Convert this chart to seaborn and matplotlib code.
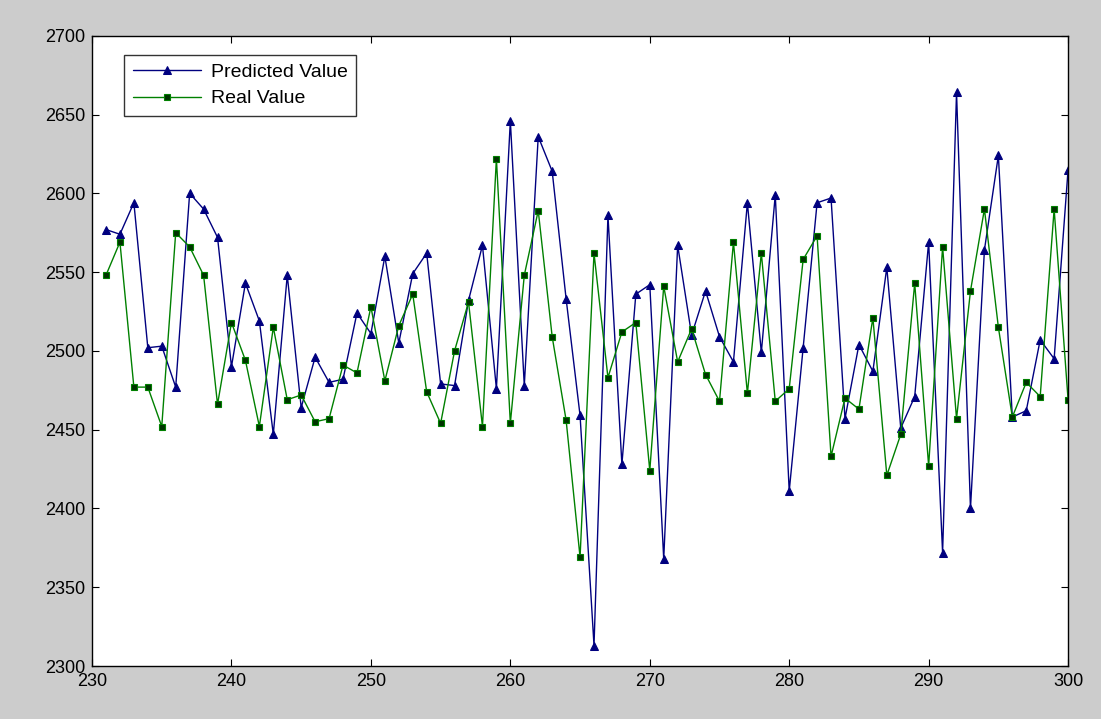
import numpy as np
import pandas as pd
import seaborn as sns
from matplotlib import pyplot as plt

sns.set_style("ticks")
plt.rcParams['font.family'] = ['Liberation Sans', 'DejaVu Sans']

steps = np.arange(231, 301)

predicted = [2577, 2574, 2594, 2502, 2503, 2477, 2600, 2590, 2572, 2490,
             2543, 2519, 2447, 2548, 2464, 2496, 2480, 2482, 2524, 2511,
             2560, 2505, 2549, 2562, 2479, 2478, 2532, 2567, 2476, 2646,
             2478, 2636, 2614, 2533, 2459, 2313, 2586, 2428, 2536, 2542,
             2368, 2567, 2510, 2538, 2509, 2493, 2594, 2499, 2599, 2411,
             2502, 2594, 2597, 2457, 2504, 2487, 2553, 2451, 2471, 2569,
             2372, 2664, 2400, 2564, 2624, 2458, 2462, 2507, 2495, 2615]

real = [2548, 2569, 2477, 2477, 2452, 2575, 2566, 2548, 2466, 2518,
        2494, 2452, 2515, 2469, 2472, 2455, 2457, 2491, 2486, 2528,
        2481, 2516, 2536, 2474, 2454, 2500, 2531, 2452, 2622, 2454,
        2548, 2589, 2509, 2456, 2369, 2562, 2483, 2512, 2518, 2424,
        2541, 2493, 2514, 2485, 2468, 2569, 2473, 2562, 2468, 2476,
        2558, 2573, 2433, 2470, 2463, 2521, 2421, 2447, 2543, 2427,
        2566, 2457, 2538, 2590, 2515, 2458, 2480, 2471, 2590, 2469]

df = pd.DataFrame({'step': steps, 'Predicted Value': predicted, 'Real Value': real})

fig = plt.figure(figsize=(11.01, 7.19), dpi=100, facecolor='#cccccc')
ax = fig.add_axes([0.0836, 0.0737, 0.8865, 0.8766])

sns.lineplot(data=df, x='step', y='Predicted Value', ax=ax, color='#00007f',
             linewidth=1, marker='^', markersize=6, markerfacecolor='#00007f',
             markeredgecolor='#00007f', label='Predicted Value')
sns.lineplot(data=df, x='step', y='Real Value', ax=ax, color='#008000',
             linewidth=1, marker='s', markersize=4, markerfacecolor='#003300',
             markeredgecolor='#008000', markeredgewidth=0.8, label='Real Value')

ax.set_xlim(230, 300)
ax.set_ylim(2300, 2700)
ax.set_xticks(np.arange(230, 301, 10))
ax.set_yticks(np.arange(2300, 2701, 50))
ax.set_xlabel('')
ax.set_ylabel('')
ax.tick_params(direction='in', top=True, right=True, labelsize=13, length=5,
               colors='black', pad=5)
for s in ax.spines.values():
    s.set_visible(True)
    s.set_linewidth(1)
    s.set_color('black')

leg = ax.legend(loc='upper left', bbox_to_anchor=(0.033, 0.97), fontsize=14,
                frameon=True, fancybox=False, handlelength=3.5, borderpad=0.45,
                labelspacing=0.45, borderaxespad=0, handletextpad=0.5)
leg.get_frame().set_edgecolor('black')
leg.get_frame().set_linewidth(1)
for t in leg.get_texts():
    t.set_color('black')

fig.savefig('out.png', dpi=100, facecolor=fig.get_facecolor())
